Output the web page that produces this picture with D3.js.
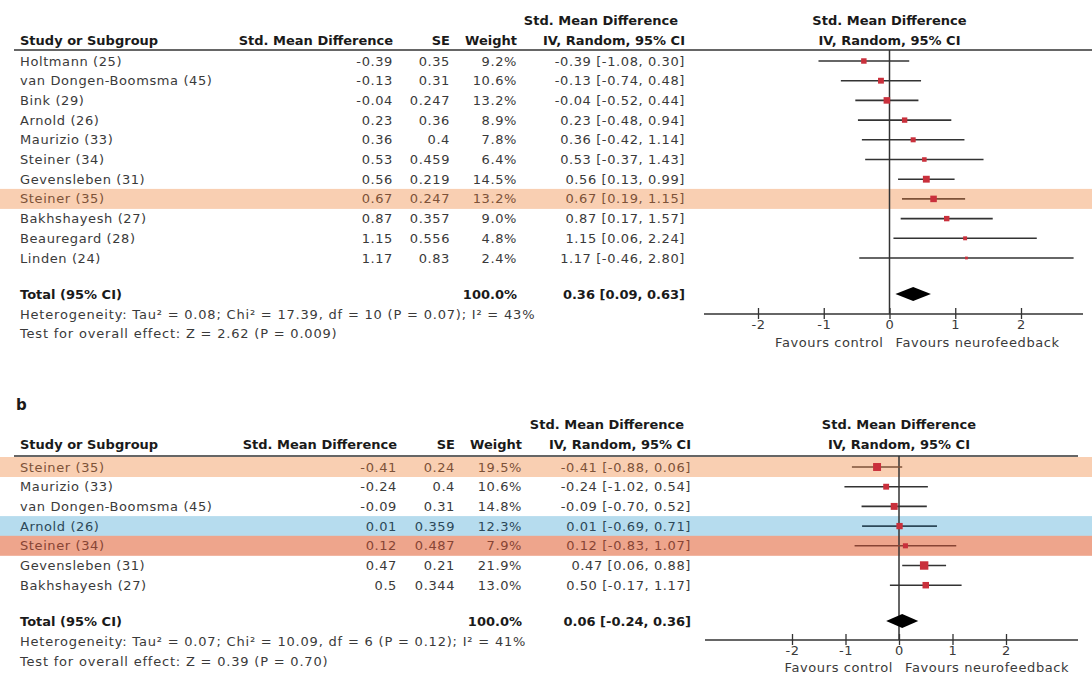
<!DOCTYPE html>
<html>
<head>
<meta charset="utf-8">
<script src="https://cdn.jsdelivr.net/npm/d3@7"></script>
<style>
body { margin: 0; background: #fff; }
svg text { font-family: "DejaVu Sans", sans-serif; font-size: 13px; fill: #3a3a3a; letter-spacing: 0.6px; }
svg text.bold { font-weight: bold; fill: #1a1a1a; letter-spacing: 0; }
svg text.note { letter-spacing: 0.8px; }
</style>
</head>
<body>
<script>
const w = 1092;
const h = 678;

// ---- panel a data ----
const studiesA = ['Holtmann (25)', 'van Dongen-Boomsma (45)', 'Bink (29)', 'Arnold (26)', 'Maurizio (33)',
    'Steiner (34)', 'Gevensleben (31)', 'Steiner (35)', 'Bakhshayesh (27)', 'Beauregard (28)', 'Linden (24)'];
const smdA = [-0.39, -0.13, -0.04, 0.23, 0.36, 0.53, 0.56, 0.67, 0.87, 1.15, 1.17];
const seA = [0.35, 0.31, 0.247, 0.36, 0.4, 0.459, 0.219, 0.247, 0.357, 0.556, 0.83];
const weightA = [9.2, 10.6, 13.2, 8.9, 7.8, 6.4, 14.5, 13.2, 9.0, 4.8, 2.4];
const lowA = [-1.08, -0.74, -0.52, -0.48, -0.42, -0.37, 0.13, 0.19, 0.17, 0.06, -0.46];
const highA = [0.30, 0.48, 0.44, 0.94, 1.14, 1.43, 0.99, 1.15, 1.57, 2.24, 2.80];
const markA = [null, null, null, null, null, null, null, 'orange', null, null, null];
const totalA = [0.36, 0.09, 0.63];
const hetA = 'Heterogeneity: Tau\u00b2 = 0.08; Chi\u00b2 = 17.39, df = 10 (P = 0.07); I\u00b2 = 43%';
const testA = 'Test for overall effect: Z = 2.62 (P = 0.009)';

// ---- panel b data ----
const studiesB = ['Steiner (35)', 'Maurizio (33)', 'van Dongen-Boomsma (45)', 'Arnold (26)', 'Steiner (34)',
    'Gevensleben (31)', 'Bakhshayesh (27)'];
const smdB = [-0.41, -0.24, -0.09, 0.01, 0.12, 0.47, 0.5];
const seB = [0.24, 0.4, 0.31, 0.359, 0.487, 0.21, 0.344];
const weightB = [19.5, 10.6, 14.8, 12.3, 7.9, 21.9, 13.0];
const lowB = [-0.88, -1.02, -0.70, -0.69, -0.83, 0.06, -0.17];
const highB = [0.06, 0.54, 0.52, 0.71, 1.07, 0.88, 1.17];
const markB = ['orange', null, null, 'blue', 'salmon', null, null];
const totalB = [0.06, -0.24, 0.36];
const hetB = 'Heterogeneity: Tau\u00b2 = 0.07; Chi\u00b2 = 10.09, df = 6 (P = 0.12); I\u00b2 = 41%';
const testB = 'Test for overall effect: Z = 0.39 (P = 0.70)';

const ticks = [-2, -1, 0, 1, 2];

// highlight styles
const bandFill = { orange: '#f9cfb2', blue: '#b6dcee', salmon: '#eea58c' };
const bandText = { orange: '#7d5238', blue: '#2c4858', salmon: '#874434' };

const svg = d3.select('body')
    .append('svg')
    .attr('width', w)
    .attr('height', h);

const fmt2 = v => v.toFixed(2);
const fmtCi = (m, l, u) => fmt2(m) + ' [' + fmt2(l) + ', ' + fmt2(u) + ']';

function drawPanel(p) {
    const g = svg.append('g');
    const n = p.names.length;
    const yRow = i => p.rowY + i * p.step;
    const x = d3.scaleLinear().domain([-2, 2]).range(p.plotRange);

    // bands
    g.selectAll('rect.band')
        .data(d3.range(n).filter(i => p.mark[i]))
        .enter()
        .append('rect')
        .attr('x', 0)
        .attr('width', w)
        .attr('y', i => yRow(i) - 10)
        .attr('height', 20)
        .attr('fill', i => bandFill[p.mark[i]]);

    // headers
    g.append('text').attr('class', 'bold').attr('x', p.colCi - 84).attr('y', p.headY + 5)
        .attr('text-anchor', 'middle').text('Std. Mean Difference');
    g.append('text').attr('class', 'bold').attr('x', 20).attr('y', p.head2Y + 5).text('Study or Subgroup');
    g.append('text').attr('class', 'bold').attr('x', p.colSmd).attr('y', p.head2Y + 5)
        .attr('text-anchor', 'end').text('Std. Mean Difference');
    g.append('text').attr('class', 'bold').attr('x', p.colSe).attr('y', p.head2Y + 5)
        .attr('text-anchor', 'end').text('SE');
    g.append('text').attr('class', 'bold').attr('x', p.colW).attr('y', p.head2Y + 5)
        .attr('text-anchor', 'end').text('Weight');
    g.append('text').attr('class', 'bold').attr('x', p.colCi).attr('y', p.head2Y + 5)
        .attr('text-anchor', 'end').text('IV, Random, 95% CI');
    g.append('text').attr('class', 'bold').attr('x', x(0)).attr('y', p.headY + 5)
        .attr('text-anchor', 'middle').text('Std. Mean Difference');
    g.append('text').attr('class', 'bold').attr('x', x(0)).attr('y', p.head2Y + 5)
        .attr('text-anchor', 'middle').text('IV, Random, 95% CI');

    g.append('line')
        .attr('x1', 14).attr('x2', p.lineEnd)
        .attr('y1', p.lineY).attr('y2', p.lineY)
        .attr('stroke', '#666').attr('stroke-width', 2);

    // table rows
    const rows = g.selectAll('g.row')
        .data(d3.range(n))
        .enter()
        .append('g')
        .attr('transform', i => 'translate(0,' + (yRow(i) + 4.5) + ')');

    const tcol = i => p.mark[i] ? bandText[p.mark[i]] : '#3a3a3a';
    rows.append('text').attr('x', 20).style('fill', tcol).text(i => p.names[i]);
    rows.append('text').attr('x', p.colSmd).attr('text-anchor', 'end').style('fill', tcol)
        .text(i => String(p.smd[i]));
    rows.append('text').attr('x', p.colSe).attr('text-anchor', 'end').style('fill', tcol)
        .text(i => String(p.se[i]));
    rows.append('text').attr('x', p.colW).attr('text-anchor', 'end').style('fill', tcol)
        .text(i => p.weight[i].toFixed(1) + '%');
    rows.append('text').attr('x', p.colCi).attr('text-anchor', 'end').style('fill', tcol)
        .text(i => fmtCi(p.smd[i], p.low[i], p.high[i]));

    // total
    g.append('text').attr('class', 'bold').attr('x', 20).attr('y', p.totalY + 4.5).text('Total (95% CI)');
    g.append('text').attr('class', 'bold').attr('x', p.colW).attr('y', p.totalY + 4.5)
        .attr('text-anchor', 'end').text('100.0%');
    g.append('text').attr('class', 'bold').attr('x', p.colCi).attr('y', p.totalY + 4.5)
        .attr('text-anchor', 'end').text(fmtCi(p.total[0], p.total[1], p.total[2]));
    g.append('text').attr('class', 'note').attr('x', 20).attr('y', p.hetY + 4.5).text(p.het);
    g.append('text').attr('class', 'note').attr('x', 20).attr('y', p.testY + 4.5).text(p.test);

    // zero line
    g.append('line')
        .attr('x1', x(0)).attr('x2', x(0))
        .attr('y1', p.lineY).attr('y2', p.axisY)
        .attr('stroke', '#333').attr('stroke-width', 1.5);

    // whiskers
    const wcol = i => p.mark[i] ? bandText[p.mark[i]] : '#333';
    g.selectAll('line.ci')
        .data(d3.range(n))
        .enter()
        .append('line')
        .attr('x1', i => x(p.low[i]))
        .attr('x2', i => x(p.high[i]))
        .attr('y1', i => yRow(i))
        .attr('y2', i => yRow(i))
        .attr('stroke', wcol)
        .attr('stroke-width', 1.6);

    // squares
    const size = i => 1.8 * Math.sqrt(p.weight[i]);
    g.selectAll('rect.pt')
        .data(d3.range(n))
        .enter()
        .append('rect')
        .attr('x', i => x(p.smd[i]) - size(i) / 2)
        .attr('y', i => yRow(i) - size(i) / 2)
        .attr('width', size)
        .attr('height', size)
        .attr('fill', '#c9303c');

    // diamond
    const dy = p.totalY;
    g.append('path')
        .attr('d', 'M' + x(p.total[1]) + ',' + dy +
            'L' + x(p.total[0]) + ',' + (dy - 7) +
            'L' + x(p.total[2]) + ',' + dy +
            'L' + x(p.total[0]) + ',' + (dy + 7) + 'Z')
        .attr('fill', '#000');

    // axis
    g.append('line')
        .attr('x1', p.axisX[0]).attr('x2', p.axisX[1])
        .attr('y1', p.axisY).attr('y2', p.axisY)
        .attr('stroke', '#333').attr('stroke-width', 1.5);

    const axis = d3.axisBottom(x).tickValues(ticks).tickSize(5).tickSizeOuter(0)
        .tickFormat(d => String(d));
    const ax = g.append('g')
        .attr('transform', 'translate(0,' + p.axisY + ')')
        .call(axis);
    ax.select('.domain').remove();
    ax.selectAll('.tick line').attr('y1', -6).attr('y2', 5).attr('stroke', '#333').attr('stroke-width', 1.3);
    ax.selectAll('.tick text')
        .attr('y', 6)
        .attr('font-family', null)
        .attr('font-size', null)
        .style('fill', '#3a3a3a');

    g.append('text').attr('x', x(0) - 6).attr('y', p.favY + 4.5)
        .attr('text-anchor', 'end').text('Favours control');
    g.append('text').attr('x', x(0) + 6).attr('y', p.favY + 4.5)
        .text('Favours neurofeedback');
}

drawPanel({
    names: studiesA, smd: smdA, se: seA, weight: weightA, low: lowA, high: highA, mark: markA,
    total: totalA, het: hetA, test: testA,
    headY: 20, head2Y: 40, lineY: 50, lineEnd: 1092, rowY: 61, step: 19.7,
    totalY: 294, hetY: 314, testY: 333,
    colSmd: 393, colSe: 450, colW: 517, colCi: 685,
    plotRange: [758, 1021], axisY: 314, axisX: [704, 1083], favY: 342
});

svg.append('text').attr('class', 'bold').attr('x', 16).attr('y', 410)
    .style('font-size', '15px').text('b');

drawPanel({
    names: studiesB, smd: smdB, se: seB, weight: weightB, low: lowB, high: highB, mark: markB,
    total: totalB, het: hetB, test: testB,
    headY: 424, head2Y: 444, lineY: 456, lineEnd: 1078, rowY: 467, step: 19.7,
    totalY: 621, hetY: 641, testY: 661,
    colSmd: 397, colSe: 455, colW: 522, colCi: 691,
    plotRange: [792, 1006], axisY: 640, axisX: [705, 1078], favY: 667
});
</script>
</body>
</html>
